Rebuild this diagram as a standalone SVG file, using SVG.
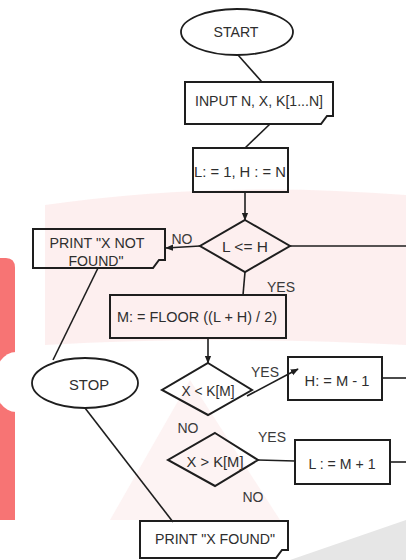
<svg xmlns="http://www.w3.org/2000/svg" width="406" height="560" viewBox="0 0 406 560">
<defs>
<style>
.s{fill:none;stroke:#1e1e1e;stroke-width:1.8}
.b{fill:none;stroke:#1e1e1e;stroke-width:2}
.c{fill:none;stroke:#1e1e1e;stroke-width:1.6}
.t{font-family:"Liberation Sans",Arial,sans-serif;font-size:15px;fill:#2e2e2e;text-anchor:middle;dominant-baseline:central}
.l{font-family:"Liberation Sans",Arial,sans-serif;font-size:14px;fill:#3a3a3a;text-anchor:middle;dominant-baseline:central}
</style>
<marker id="ah" viewBox="0 0 10 10" refX="9" refY="5" markerWidth="5" markerHeight="5" orient="auto">
<path d="M0,1 L10,5 L0,9 Z" fill="#1e1e1e"/>
</marker>
</defs>
<rect width="406" height="560" fill="#ffffff"/>
<g id="watermark">
<path d="M45,205 Q220,180 406,195 L406,345 Q220,335 45,345 Z" fill="#fbe4e4" opacity="0.6"/>
<path d="M110,520 L190,380 L280,520 Z" fill="#fbe7e7" opacity="0.5"/>
<path d="M290,560 L406,520 L406,560 Z" fill="#e6e6e6"/>
<path d="M0,258 H6 Q15,258 15,268 V520 H0 Z" fill="#f77474"/>
<ellipse cx="16" cy="382" rx="22" ry="30" fill="#ffffff"/>
</g>
<g id="connectors">
<line class="c" x1="238" y1="55" x2="262" y2="82"/>
<line class="c" x1="270" y1="124" x2="245" y2="148"/>
<line class="c" x1="245" y1="192" x2="245" y2="220" marker-end="url(#ah)"/>
<line class="c" x1="290" y1="246" x2="406" y2="246"/>
<line class="c" x1="200" y1="246" x2="166" y2="248" marker-end="url(#ah)"/>
<line class="c" x1="245" y1="272" x2="243" y2="295"/>
<line class="c" x1="208" y1="338" x2="208" y2="363" marker-end="url(#ah)"/>
<line class="c" x1="247" y1="396" x2="298" y2="369" marker-end="url(#ah)"/>
<line class="c" x1="382" y1="378" x2="406" y2="378"/>
<line class="c" x1="258" y1="460" x2="295" y2="461"/>
<line class="c" x1="390" y1="462" x2="406" y2="462"/>
<line class="c" x1="98" y1="268" x2="53" y2="360"/>
<line class="c" x1="173" y1="522" x2="85" y2="408"/>
<text class="l" x="182" y="239">NO</text>
<text class="l" x="281" y="287">YES</text>
<text class="l" x="265" y="372">YES</text>
<text class="l" x="188" y="428">NO</text>
<text class="l" x="272" y="437">YES</text>
<text class="l" x="253" y="497">NO</text>
</g>
<g id="start">
<ellipse class="s" cx="237" cy="32" rx="56" ry="23"/>
<text class="t" x="236" y="31" textLength="45" lengthAdjust="spacingAndGlyphs">START</text>
</g>
<g id="input">
<path class="b" d="M185,82 H333 V116 H327 L321,124 H185 Z"/>
<text class="t" x="259" y="100" textLength="128" lengthAdjust="spacingAndGlyphs">INPUT N, X, K[1...N]</text>
</g>
<g id="init">
<rect class="b" x="193" y="148" width="95" height="44"/>
<text class="t" x="240" y="171" textLength="92" lengthAdjust="spacingAndGlyphs">L: = 1, H : = N</text>
</g>
<g id="cond1">
<path class="b" d="M245,220 L290,246 L245,272 L200,246 Z"/>
<text class="t" x="245" y="246" textLength="46" lengthAdjust="spacingAndGlyphs">L &lt;= H</text>
</g>
<g id="notfound">
<path class="b" d="M33,229 H165 V260 H159 L153,268 H33 Z"/>
<text class="t" x="97" y="242" textLength="95" lengthAdjust="spacingAndGlyphs">PRINT "X NOT</text>
<text class="t" x="96" y="260" textLength="55" lengthAdjust="spacingAndGlyphs">FOUND"</text>
</g>
<g id="mid">
<rect class="b" x="110" y="295" width="176" height="43"/>
<text class="t" x="197" y="316" textLength="160" lengthAdjust="spacingAndGlyphs">M: = FLOOR ((L + H) / 2)</text>
</g>
<g id="stop">
<ellipse class="s" cx="85" cy="383" rx="53" ry="25"/>
<text class="t" x="89" y="384" textLength="40" lengthAdjust="spacingAndGlyphs">STOP</text>
</g>
<g id="cond2">
<path class="b" d="M208,363 L252,390 L208,415 L162,390 Z"/>
<text class="t" x="208" y="390" textLength="53" lengthAdjust="spacingAndGlyphs">X &lt; K[M]</text>
</g>
<g id="high">
<rect class="b" x="288" y="357" width="94" height="43"/>
<text class="t" x="337" y="380" textLength="65" lengthAdjust="spacingAndGlyphs">H: = M - 1</text>
</g>
<g id="cond3">
<path class="b" d="M215,433 L258,460 L215,486 L168,460 Z"/>
<text class="t" x="215" y="461" textLength="57" lengthAdjust="spacingAndGlyphs">X &gt; K[M]</text>
</g>
<g id="low">
<rect class="b" x="295" y="440" width="95" height="44"/>
<text class="t" x="342" y="463" textLength="67" lengthAdjust="spacingAndGlyphs">L : = M + 1</text>
</g>
<g id="found">
<path class="b" d="M140,521 H288 V550 H282 L276,558 H140 Z"/>
<text class="t" x="215" y="538" textLength="120" lengthAdjust="spacingAndGlyphs">PRINT "X FOUND"</text>
</g>
</svg>
